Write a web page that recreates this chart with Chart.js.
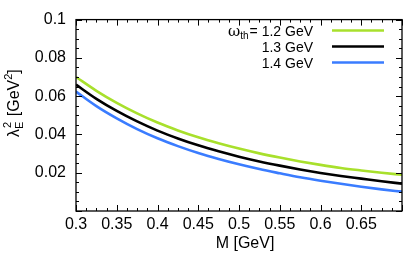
<!DOCTYPE html>
<html>
<head>
<meta charset="utf-8">
<script src="https://cdn.jsdelivr.net/npm/chart.js@4"></script>
<style>
html,body{margin:0;padding:0;background:#fff;}
#wrap{width:404px;height:255px;position:relative;}
</style>
</head>
<body>
<div id="wrap"><canvas id="c" width="404" height="255"></canvas></div>
<script>
const massGeV = [0.300,0.325,0.350,0.375,0.400,0.425,0.450,0.475,0.500,0.525,0.550,0.575,0.600,0.625,0.650,0.675,0.700];
const lambda12 = [0.0700,0.0628,0.0565,0.0510,0.0462,0.0421,0.0385,0.0354,0.0326,0.0301,0.0279,0.0259,0.0241,0.0225,0.0212,0.0200,0.0189];
const lambda13 = [0.0660,0.0586,0.0523,0.0468,0.0420,0.0379,0.0343,0.0312,0.0284,0.0259,0.0237,0.0217,0.0199,0.0183,0.0169,0.0155,0.0143];
const lambda14 = [0.0624,0.0548,0.0484,0.0428,0.0380,0.0339,0.0303,0.0272,0.0244,0.0219,0.0197,0.0176,0.0158,0.0142,0.0127,0.0113,0.0101];
const seriesLabels = ['1.2 GeV','1.3 GeV','1.4 GeV'];
const xTickLabels = ['0.3','0.35','0.4','0.45','0.5','0.55','0.6','0.65'];
const yTickLabels = ['0.02','0.04','0.06','0.08','0.1'];
const colors = ['#a8e02c','#000000','#3a7cff'];

function toPts(ys){ return massGeV.map((m,i)=>({x:m,y:ys[i]})); }

const FONT = '"Liberation Sans", Arial, Helvetica, sans-serif';

const decor = {
  id:'decor',
  afterDraw(chart){
    const ctx = chart.ctx, a = chart.chartArea;
    const xs = chart.scales.x, ys = chart.scales.y;
    ctx.save();
    ctx.strokeStyle = '#000'; ctx.lineWidth = 1.3;
    ctx.strokeRect(a.left, a.top, a.right-a.left, a.bottom-a.top);
    ctx.lineWidth = 1;
    ctx.beginPath();
    for(let k=0;k<=32;k++){
      const v = 0.3 + k*0.0125;
      const px = Math.round(xs.getPixelForValue(v))+0.5;
      const len = (k%4===0)?6:3;
      ctx.moveTo(px,a.bottom); ctx.lineTo(px,a.bottom-len);
      ctx.moveTo(px,a.top); ctx.lineTo(px,a.top+len);
    }
    for(let k=0;k<=20;k++){
      const v = k*0.005;
      const py = Math.round(ys.getPixelForValue(v))+0.5;
      const len = (k%4===0)?6:3;
      ctx.moveTo(a.left,py); ctx.lineTo(a.left+len,py);
      ctx.moveTo(a.right,py); ctx.lineTo(a.right-len,py);
    }
    ctx.stroke();

    ctx.fillStyle = '#000';
    ctx.font = '16px '+FONT;
    ctx.textAlign = 'center'; ctx.textBaseline = 'alphabetic';
    ctx.fillText('M [GeV]', 245, 248);

    ctx.save();
    ctx.translate(19, 137);
    ctx.rotate(-Math.PI/2);
    ctx.textAlign = 'left';
    let x = 0;
    ctx.font = '16px '+FONT;
    ctx.fillText('λ', x, 0); x += ctx.measureText('λ').width;
    ctx.font = '11px '+FONT;
    ctx.fillText('E', x, 4);
    ctx.fillText('2', x+1, -8);
    x += ctx.measureText('E').width + 1;
    ctx.font = '16px '+FONT;
    ctx.fillText(' [GeV', x, 0); x += ctx.measureText(' [GeV').width;
    ctx.font = '11px '+FONT;
    ctx.fillText('2', x, -7); x += ctx.measureText('2').width;
    ctx.font = '16px '+FONT;
    ctx.fillText(']', x, 0);
    ctx.restore();

    const rowsY = [30.5, 46.5, 62.5];
    const textRight = 313;
    ctx.textAlign = 'left'; ctx.textBaseline = 'alphabetic';
    for(let i=0;i<3;i++){
      const by = rowsY[i] + 5.5;
      ctx.font = '14px '+FONT;
      const main = seriesLabels[i];
      const wMain = ctx.measureText(main).width;
      ctx.fillText(main, textRight - wMain, by);
      if(i===0){
        const eq = '= ';
        const wEq = ctx.measureText(eq).width;
        let sx = textRight - wMain - wEq;
        ctx.fillText(eq, sx, by);
        ctx.font = '10px '+FONT;
        const wTh = ctx.measureText('th').width;
        sx -= wTh + 1;
        ctx.fillText('th', sx, by+3);
        ctx.font = '15px "DejaVu Serif", serif';
        const wO = ctx.measureText('ω').width;
        sx -= wO;
        ctx.fillText('ω', sx, by);
      }
      ctx.strokeStyle = colors[i]; ctx.lineWidth = 2.6;
      ctx.beginPath(); ctx.moveTo(332, rowsY[i]); ctx.lineTo(384, rowsY[i]); ctx.stroke();
    }
    ctx.restore();
  }
};

new Chart(document.getElementById('c'), {
  type:'line',
  data:{
    datasets:[lambda12,lambda13,lambda14].map((d,i)=>({
      label:seriesLabels[i], data:toPts(d), borderColor:colors[i], borderWidth:2.6,
      pointRadius:0, cubicInterpolationMode:'monotone', fill:false
    }))
  },
  options:{
    responsive:false, animation:false,
    layout:{padding:{top:10,right:2,left:0,bottom:0}},
    plugins:{legend:{display:false}, tooltip:{enabled:false}},
    scales:{
      x:{type:'linear', min:0.3, max:0.7,
        afterFit(s){ s.height = 44; },
        grid:{display:false, drawTicks:false}, border:{display:false},
        afterBuildTicks(s){ s.ticks = xTickLabels.map(t=>({value:parseFloat(t)})); },
        ticks:{autoSkip:false, maxRotation:0, padding:4, color:'#000', font:{family:FONT,size:16},
          callback(v){ const s = xTickLabels.find(t=>Math.abs(parseFloat(t)-v)<1e-6); return s===undefined?'':s; }}
      },
      y:{type:'linear', min:0, max:0.1,
        afterFit(s){ s.width = 76; },
        grid:{display:false, drawTicks:false}, border:{display:false},
        afterBuildTicks(s){ s.ticks = yTickLabels.map(t=>({value:parseFloat(t)})); },
        ticks:{autoSkip:false, padding:10, color:'#000', font:{family:FONT,size:16},
          callback(v){ const s = yTickLabels.find(t=>Math.abs(parseFloat(t)-v)<1e-6); return s===undefined?'':s; }}
      }
    }
  },
  plugins:[decor]
});
</script>
</body>
</html>
